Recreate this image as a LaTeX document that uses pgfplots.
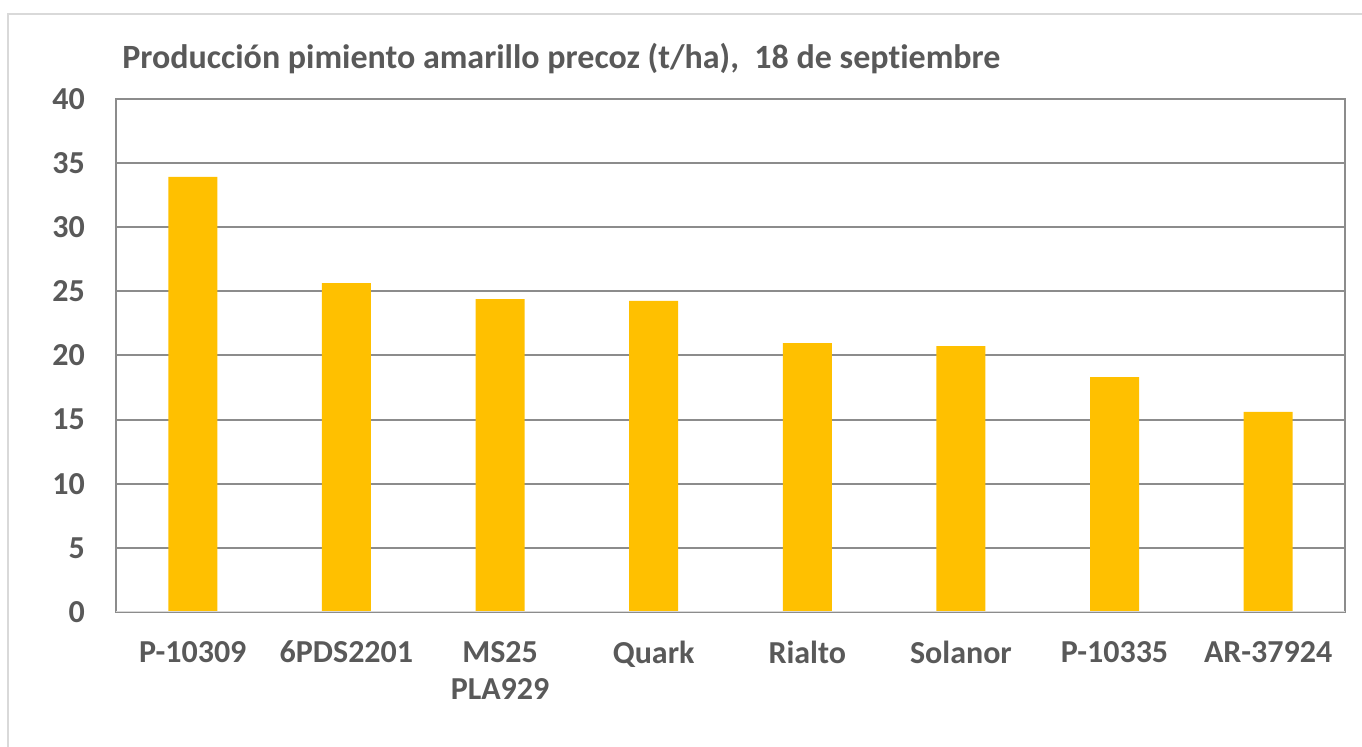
\documentclass[border=0pt]{standalone}
\usepackage{pgfplots}
\pgfplotsset{compat=1.18}
\usepackage{fontspec}
\setmainfont{Carlito}[Ligatures=NoCommon]
\definecolor{txt}{HTML}{595959}
\definecolor{bar}{HTML}{FFC000}
\definecolor{gridc}{HTML}{8C8C8C}
\definecolor{framec}{HTML}{D9D9D9}
\begin{document}
\begin{tikzpicture}
\path[use as bounding box] (0,0) rectangle (681pt,-373.5pt);
\draw[color=framec, line width=1pt] (4pt,-7pt) rectangle (690pt,-380pt);
\node[anchor=west, text=txt, font=\bfseries\fontsize{17}{20}\selectfont, inner sep=0pt] at (61pt,-29.5pt) {Producción pimiento amarillo precoz (t/ha),\ \ 18 de septiembre};
\begin{axis}[
  at={(58pt,-306pt)}, anchor=south west,
  scale only axis, width=614.5pt, height=256.5pt,
  ymin=0, ymax=40, ytick={0,5,...,40},
  xmin=-0.5, xmax=7.5,
  xtick={0,...,7},
  xticklabels={P-10309,6PDS2201,{MS25\\PLA929},Quark,Rialto,Solanor,P-10335,AR-37924},
  xticklabel style={align=center, text=txt, font=\bfseries\fontsize{16}{18.5}\selectfont, yshift=-11pt},
  yticklabel style={text=txt, font=\bfseries\fontsize{16}{19}\selectfont, xshift=-12pt},
  /pgf/number format/assume math mode=true,
  major tick length=0pt,
  ymajorgrids, major grid style={color=gridc, line width=1pt},
  axis line style={color=gridc, line width=1pt},
  ybar, bar width=24.5pt,
]
\addplot[fill=bar, draw=none] coordinates {(0,33.92) (1,25.65) (2,24.4) (3,24.25) (4,20.97) (5,20.74) (6,18.32) (7,15.6)};
\draw[color=framec, line width=1.2pt] (axis cs:-0.5,0) -- (axis cs:7.5,0);
\end{axis}
\end{tikzpicture}
\end{document}
